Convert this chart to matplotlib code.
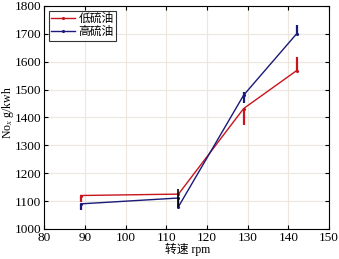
import matplotlib
matplotlib.use("Agg")
import matplotlib.pyplot as plt

plt.rcParams['font.family'] = ['Liberation Serif', 'Noto Sans CJK SC']
plt.rcParams['mathtext.fontset'] = 'stix'

# data
speed = [89, 113, 129, 142]
low_s = [1120, 1125, 1432, 1568]
low_err_lo = [25, 0, 60, 0]
low_err_hi = [0, 0, 0, 50]

# the blue line drops to the bottom of the error bar at 113 before rising
high_x = [89, 113, 113, 129, 142]
high_s = [1090, 1111, 1080, 1480, 1700]
high_bar_x = [89, 129, 142]
high_bar_y = [1090, 1480, 1700]
high_err_lo = [22, 28, 0]
high_err_hi = [0, 12, 31]

mid_bar_x = [113]
mid_bar_y = [1111]
mid_err = [[32], [32]]

red = '#c8141e'
navy = '#1a1a78'

fig = plt.figure(figsize=(3.39, 2.59), dpi=100)
ax = fig.add_axes([0.130, 0.116, 0.841, 0.861])

ax.plot(speed, low_s, color=red, lw=1.0, marker='.', ms=2.5, label='低硫油')
ax.plot(high_x, high_s, color=navy, lw=1.0, marker='.', ms=2.5, label='高硫油')

ax.errorbar(speed, low_s, yerr=[low_err_lo, low_err_hi], fmt='none',
            ecolor=red, elinewidth=1.6, capsize=0)
ax.errorbar(high_bar_x, high_bar_y, yerr=[high_err_lo, high_err_hi], fmt='none',
            ecolor=navy, elinewidth=1.6, capsize=0)
ax.errorbar(mid_bar_x, mid_bar_y, yerr=mid_err, fmt='none',
            ecolor='black', elinewidth=1.2, capsize=0)

ax.set_xlim(80, 150)
ax.set_ylim(1000, 1800)
ax.set_xticks(range(80, 151, 10))
ax.set_yticks(range(1000, 1801, 100))
ax.grid(True, color='#ece6dc', lw=0.8)
ax.tick_params(direction='in', top=True, right=True, labelsize=9.5,
               length=3, width=0.8, pad=2)
for s in ax.spines.values():
    s.set_linewidth(0.8)

ax.set_xlabel('转速 rpm', fontsize=8.5)
ax.set_ylabel('No$_x$ g/kwh', fontsize=8.5)
ax.xaxis.set_label_coords(0.505, -0.063)
ax.yaxis.set_label_coords(-0.098, 0.52)

leg = ax.legend(loc='upper left', fontsize=8.5, frameon=True, fancybox=False,
                edgecolor='black', borderpad=0.2, handlelength=2.0,
                handletextpad=0.3, labelspacing=0.1, borderaxespad=0.4)
leg.get_frame().set_linewidth(0.8)

fig.savefig('out.png', dpi=100)
